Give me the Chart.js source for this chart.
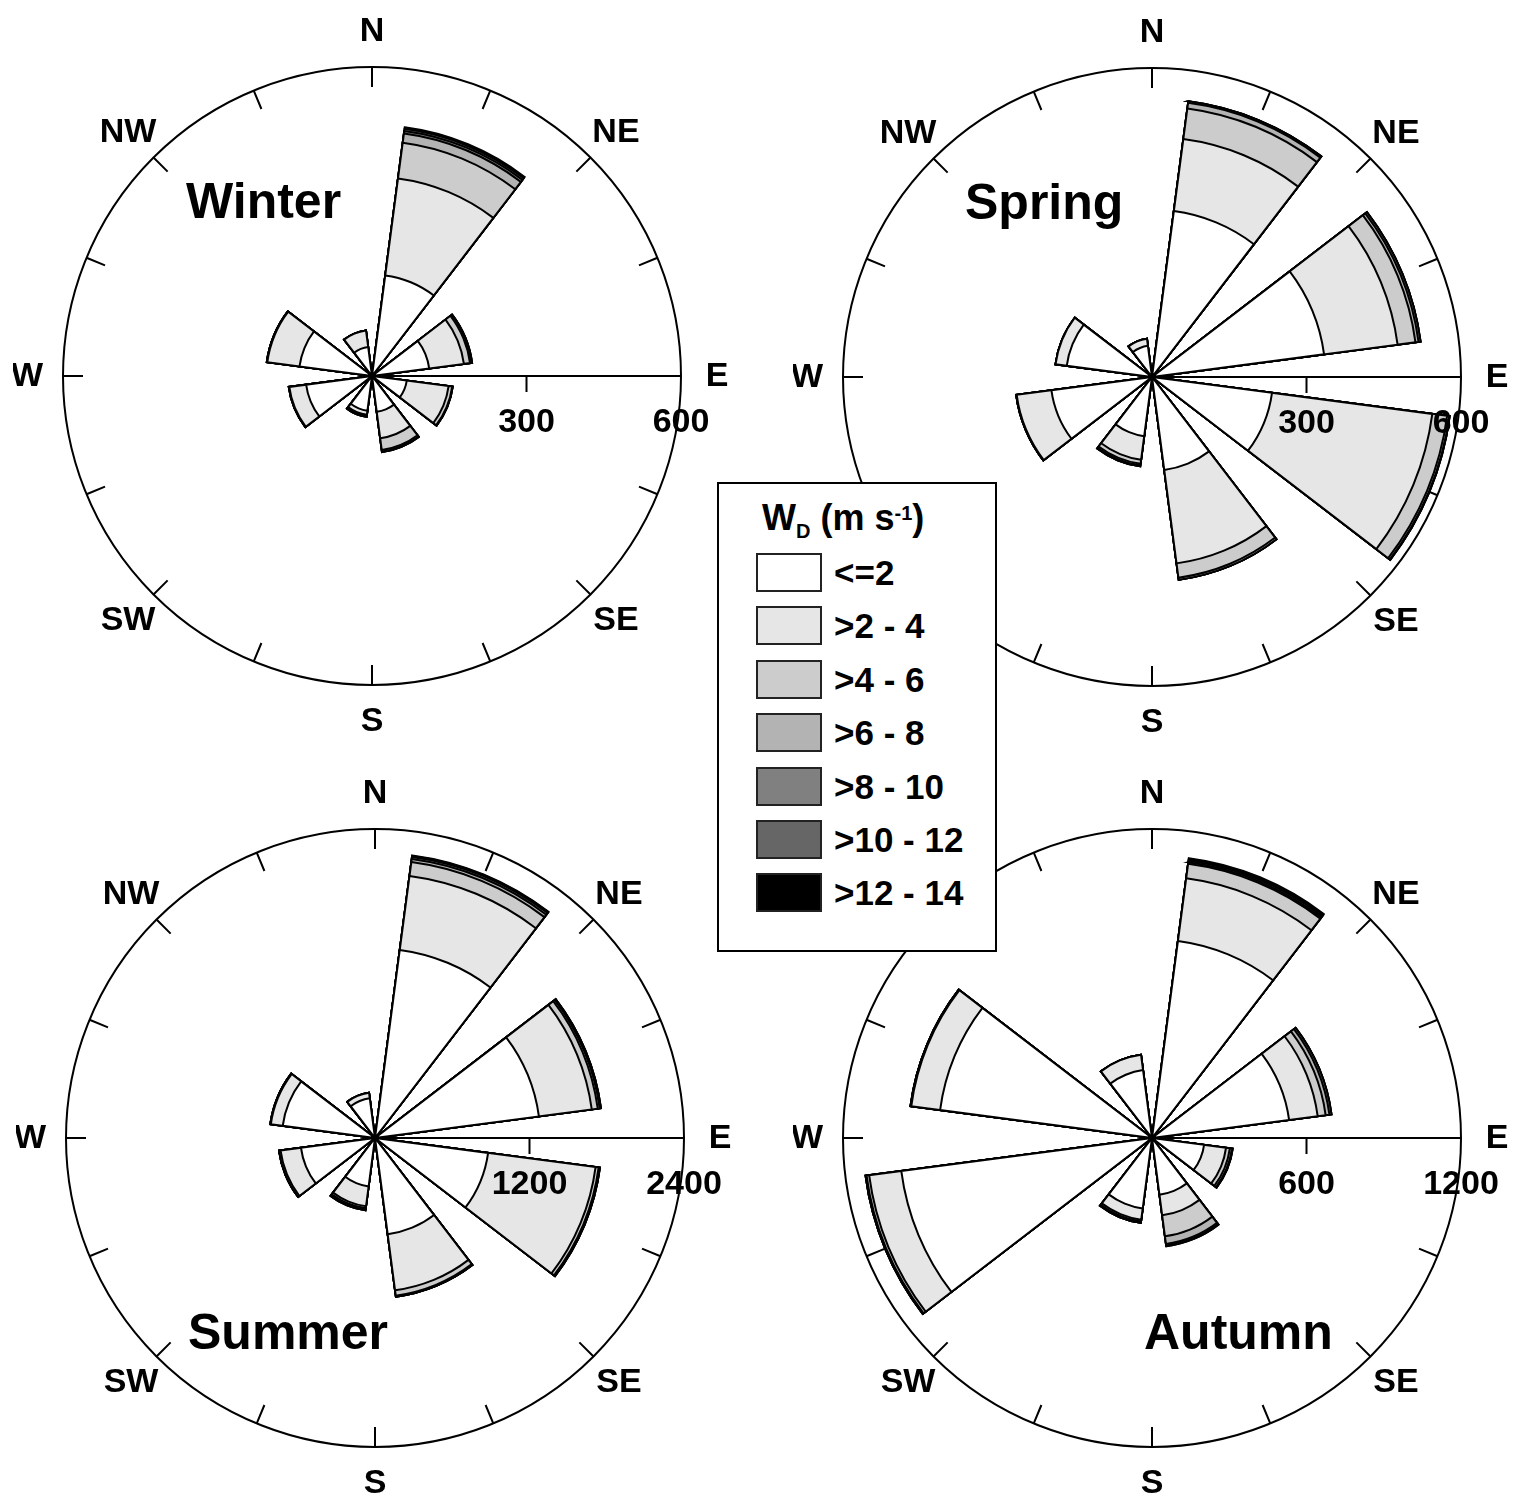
<!DOCTYPE html>
<html>
<head>
<meta charset="utf-8">
<title>Seasonal wind roses</title>
<script src="https://cdn.jsdelivr.net/npm/chart.js@4.4.1/dist/chart.umd.min.js"></script>
<style>
  html, body { margin: 0; padding: 0; background: #fff; }
  body { width: 1521px; height: 1503px; position: relative; overflow: hidden;
         font-family: "Liberation Sans", Arial, Helvetica, sans-serif; }
  canvas.rose { position: absolute; width: 718px; height: 718px; }
  #legend { position: absolute; left: 717px; top: 482px; width: 280px; height: 470px;
            box-sizing: border-box; border: 2px solid #000; background: #fff; }
  #legend .lg-title { position: absolute; left: 43px; top: 16px; font-weight: bold;
            font-size: 36px; line-height: 36px; white-space: nowrap; color: #000; }
  #legend .lg-title sub { font-size: 20px; vertical-align: -8px; line-height: 0; }
  #legend .lg-title sup { font-size: 20px; vertical-align: 10px; line-height: 0; }
  #legend .sw { position: absolute; left: 37px; width: 66px; height: 39px;
            box-sizing: border-box; border: 2px solid #222; }
  #legend .lbl { position: absolute; left: 115px; height: 39px; line-height: 39px;
            font-weight: bold; font-size: 35px; white-space: nowrap; color: #000; }
</style>
</head>
<body>
<canvas id="winter" class="rose" width="718" height="718" style="left:13px;top:17px"></canvas>
<canvas id="spring" class="rose" width="718" height="718" style="left:793px;top:18px"></canvas>
<canvas id="summer" class="rose" width="718" height="718" style="left:16px;top:779px"></canvas>
<canvas id="autumn" class="rose" width="718" height="718" style="left:793px;top:779px"></canvas>
<div id="legend">
  <div class="lg-title">W<sub>D</sub> (m s<sup>-1</sup>)</div>
</div>
<script>
// Direction sectors, clockwise from north-north-east
const sectorNames = ['NNE', 'ENE', 'ESE', 'SSE', 'SSW', 'WSW', 'WNW', 'NNW'];
// Wind speed classes (m/s)
const speedBins = ['<=2', '>2 - 4', '>4 - 6', '>6 - 8', '>8 - 10', '>10 - 12', '>12 - 14'];
const binColors = ['#ffffff', '#e6e6e6', '#cccccc', '#b3b3b3', '#808080', '#666666', '#000000'];
const compassLabels = ['N', 'NE', 'E', 'SE', 'S', 'SW', 'W', 'NW'];

// Counts per sector (rows) and speed class (columns)
const winterCounts = [
  [197, 190, 70, 18, 5, 4, 3],
  [112, 68, 12, 3, 1, 0, 0],
  [68, 82, 7, 1, 0, 0, 0],
  [70, 52, 23, 3, 1, 0, 0],
  [68, 8, 2, 1, 1, 0, 0],
  [129, 33, 1, 0, 0, 0, 0],
  [142, 63, 1, 0, 0, 0, 0],
  [57, 32, 0, 0, 0, 0, 0]
];
const springCounts = [
  [325, 141, 60, 11, 3, 0, 0],
  [337, 144, 35, 6, 4, 0, 0],
  [235, 314, 29, 4, 1, 0, 0],
  [182, 183, 28, 4, 0, 0, 0],
  [116, 46, 8, 3, 2, 0, 0],
  [197, 68, 1, 0, 0, 0, 0],
  [167, 22, 0, 0, 0, 0, 0],
  [61, 14, 0, 0, 0, 0, 0]
];
const summerCounts = [
  [1473, 580, 109, 24, 16, 8, 4],
  [1284, 414, 47, 15, 10, 0, 0],
  [886, 842, 24, 8, 2, 0, 0],
  [754, 439, 42, 8, 0, 0, 0],
  [380, 155, 15, 10, 7, 0, 0],
  [580, 160, 12, 0, 0, 0, 0],
  [723, 93, 4, 0, 0, 0, 0],
  [311, 43, 0, 0, 0, 0, 0]
];
const autumnCounts = [
  [772, 245, 57, 6, 6, 5, 5],
  [537, 112, 31, 15, 8, 0, 0],
  [204, 86, 15, 8, 3, 0, 0],
  [222, 81, 82, 30, 6, 3, 0],
  [276, 44, 7, 5, 0, 0, 0],
  [982, 126, 10, 4, 0, 0, 0],
  [830, 113, 3, 0, 0, 0, 0],
  [266, 60, 0, 0, 0, 0, 0]
];

// Radial tick values (middle, outer ring)
const winterTicks = [300, 600];
const springTicks = [300, 600];
const summerTicks = [1200, 2400];
const autumnTicks = [600, 1200];

const SECTOR_ANGLE = 30;   // degrees covered by each petal
const GAP_ANGLE = 15;      // empty wedge between petals
const FONT = '"Liberation Sans", Arial, Helvetica, sans-serif';

// Compass ticks, east axis, direction labels, radial tick labels and season title
const roseDecor = {
  id: 'roseDecor',
  beforeDatasetsDraw(chart, args, o) {
    const s = chart.scales.r, ctx = chart.ctx;
    const cx = s.xCenter, cy = s.yCenter, R = s.drawingArea;
    ctx.save();
    ctx.strokeStyle = '#000';
    ctx.lineWidth = 2;
    ctx.lineCap = 'butt';
    ctx.beginPath();
    for (let k = 0; k < 16; k++) {
      if (k === 4) continue;
      const a = k * Math.PI / 8;
      ctx.moveTo(cx + R * Math.sin(a), cy - R * Math.cos(a));
      ctx.lineTo(cx + (R - 20) * Math.sin(a), cy - (R - 20) * Math.cos(a));
    }
    ctx.moveTo(cx, cy);
    ctx.lineTo(cx + R, cy);
    const xm = cx + s.getDistanceFromCenterForValue(o.ticks[0]);
    ctx.moveTo(xm, cy);
    ctx.lineTo(xm, cy + 16);
    ctx.stroke();
    ctx.restore();
  },
  afterDatasetsDraw(chart, args, o) {
    const s = chart.scales.r, ctx = chart.ctx;
    const cx = s.xCenter, cy = s.yCenter, R = s.drawingArea;
    ctx.save();
    ctx.fillStyle = '#000';
    ctx.font = 'bold 34px ' + FONT;
    ctx.textAlign = 'center';
    ctx.textBaseline = 'middle';
    compassLabels.forEach((t, k) => {
      const a = k * Math.PI / 4;
      ctx.fillText(t, cx + (R + 36) * Math.sin(a), cy - (R + 36) * Math.cos(a) + 1);
    });
    o.ticks.forEach(v => {
      ctx.fillText(String(v), cx + s.getDistanceFromCenterForValue(v), cy + 47);
    });
    ctx.font = 'bold 50px ' + FONT;
    ctx.textAlign = 'left';
    ctx.textBaseline = 'alphabetic';
    ctx.fillText(o.title, cx + o.titleDx, cy + o.titleDy);
    ctx.restore();
  }
};

function drawRose(id, counts, ticks, title, titleDx, titleDy) {
  const labels = [];
  sectorNames.forEach(n => { labels.push(n); labels.push(''); });
  const maxVal = ticks[ticks.length - 1];
  // one dataset per speed class holding cumulative totals; the first is drawn on top
  const datasets = speedBins.map((bin, b) => ({
    label: bin,
    data: counts.flatMap(row => [row.slice(0, b + 1).reduce((acc, v) => acc + v, 0), 0]),
    backgroundColor: binColors[b],
    borderColor: '#000',
    borderWidth: c => (c.dataIndex % 2 ? 0 : 2),
    borderJoinStyle: 'miter',
    angle: c => (c.dataIndex % 2 ? GAP_ANGLE : SECTOR_ANGLE)
  }));
  return new Chart(document.getElementById(id), {
    type: 'polarArea',
    data: { labels, datasets },
    options: {
      responsive: false,
      animation: false,
      events: [],
      layout: { padding: 50 },
      plugins: {
        legend: { display: false },
        tooltip: { enabled: false },
        roseDecor: { ticks, title, titleDx, titleDy }
      },
      scales: {
        r: {
          min: 0,
          max: maxVal,
          startAngle: (SECTOR_ANGLE - GAP_ANGLE) / 2,
          ticks: { display: false, stepSize: ticks[0] },
          grid: {
            circular: true,
            color: '#000',
            lineWidth: c => (c.tick && c.tick.value === maxVal ? 2 : 0)
          },
          angleLines: { display: false },
          pointLabels: { display: false }
        }
      }
    },
    plugins: [roseDecor]
  });
}

drawRose('winter', winterCounts, winterTicks, 'Winter', -186, -158);
drawRose('spring', springCounts, springTicks, 'Spring', -187, -158);
drawRose('summer', summerCounts, summerTicks, 'Summer', -187, 211);
drawRose('autumn', autumnCounts, autumnTicks, 'Autumn', -8, 211);

// Speed class legend
const legend = document.getElementById('legend');
speedBins.forEach((bin, i) => {
  const top = 69 + i * 53.4;
  const sw = document.createElement('div');
  sw.className = 'sw';
  sw.style.top = top + 'px';
  sw.style.background = binColors[i];
  legend.appendChild(sw);
  const lb = document.createElement('div');
  lb.className = 'lbl';
  lb.style.top = top + 'px';
  lb.textContent = bin;
  legend.appendChild(lb);
});
</script>
</body>
</html>
